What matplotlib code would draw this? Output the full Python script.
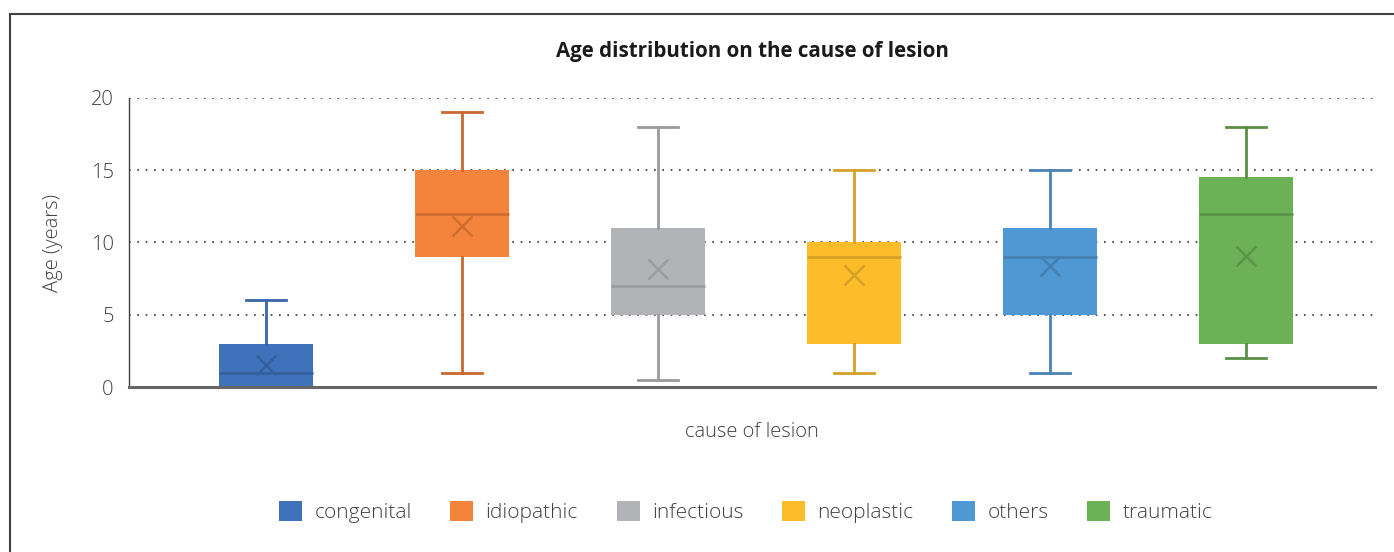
import matplotlib
matplotlib.use("Agg")
import matplotlib.pyplot as plt
from matplotlib.patches import Patch, Rectangle

plt.rcParams["font.family"] = ["Open Sans", "DejaVu Sans"]

CATEGORIES = ["congenital", "idiopathic", "infectious", "neoplastic", "others", "traumatic"]
WHISKER_LOW = [0, 1, 0.5, 1, 1, 2]
Q1 = [0, 9, 5, 3, 5, 3]
MEDIAN = [1, 12, 7, 9, 9, 12]
Q3 = [3, 15, 11, 10, 11, 14.5]
WHISKER_HIGH = [6, 19, 18, 15, 15, 18]
MEAN = [1.5, 11.15, 8.2, 7.75, 8.4, 9.05]

FILL = ["#3f72ba", "#f4843b", "#b2b3b6", "#fdbd2a", "#4f98d3", "#6db157"]
EDGE = ["#3b67a8", "#c9692f", "#9a9b9e", "#d4a02a", "#4a82b8", "#5a8f45"]
INNER = ["#34609e", "#cf6e30", "#9c9da0", "#d6a024", "#4580b3", "#5c9447"]

fig = plt.figure(figsize=(13.94, 5.52), dpi=100)
ax = fig.add_axes([0.0925, 0.2989, 0.8939, 0.5236])

stats = []
for i, name in enumerate(CATEGORIES):
    stats.append(dict(label=name, whislo=WHISKER_LOW[i], q1=Q1[i], med=MEDIAN[i],
                      q3=Q3[i], whishi=WHISKER_HIGH[i], mean=MEAN[i], fliers=[]))

for i, s in enumerate(stats):
    ax.bxp([s], positions=[i], widths=0.48, patch_artist=True, showmeans=True,
           showfliers=False,
           boxprops=dict(facecolor=FILL[i], edgecolor=FILL[i], linewidth=0),
           whiskerprops=dict(color=EDGE[i], linewidth=2),
           capprops=dict(color=EDGE[i], linewidth=2),
           medianprops=dict(color=INNER[i], linewidth=2),
           meanprops=dict(marker="x", markeredgecolor=INNER[i], markersize=14,
                          markeredgewidth=1.8),
           capwidths=0.2, zorder=3)

ax.set_xlim(-0.699, 5.658)
ax.set_ylim(0, 20)
ax.set_yticks([0, 5, 10, 15, 20])
ax.set_xticks([])
ax.tick_params(axis="y", length=0, pad=11, labelsize=14.5, labelcolor="#404040")
for lab in ax.get_yticklabels():
    lab.set_fontweight("light")
ax.yaxis.grid(True, linestyle=(0, (1, 4)), color="#333333", linewidth=1.2, zorder=0)
ax.set_axisbelow(True)
for side in ["top", "right"]:
    ax.spines[side].set_visible(False)
ax.spines["left"].set_color("#404040")
ax.spines["left"].set_linewidth(1.0)
ax.spines["bottom"].set_color("#666666")
ax.spines["bottom"].set_linewidth(2.2)
ax.spines["bottom"].set_zorder(5)

ax.set_ylabel("Age (years)", fontsize=14.5, color="#404040", labelpad=20, fontweight="light")
fig.text(0.5395, 0.217, "cause of lesion", fontsize=14.5, color="#404040",
         ha="center", va="center", fontweight="light")
fig.text(0.5395, 0.907, "Age distribution on the cause of lesion", fontsize=14.8,
         fontweight="bold", color="#1a1a1a", ha="center", va="center")

handles = [Patch(facecolor=FILL[i], edgecolor="none", label=CATEGORIES[i])
           for i in range(len(CATEGORIES))]
leg = fig.legend(handles=handles, loc="center", bbox_to_anchor=(0.535, 0.072), ncol=6,
                 frameon=False, fontsize=15, handlelength=1.1, handleheight=1.1,
                 handletextpad=0.6, columnspacing=1.85, labelcolor="#404040")
for t in leg.get_texts():
    t.set_fontweight("light")

fig.patches.append(Rectangle((9.5 / 1394, -0.1), 1.2, 1 - 13.5 / 552 + 0.1,
                             transform=fig.transFigure, fill=False,
                             edgecolor="#404040", linewidth=1.5))

fig.savefig("out.png", dpi=100)
